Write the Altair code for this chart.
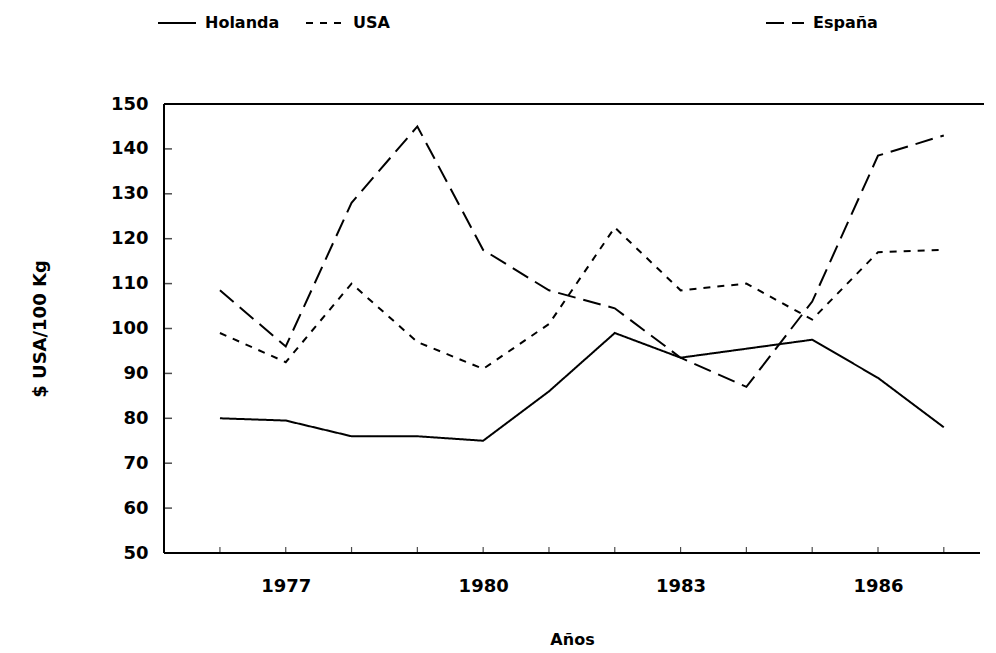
import altair as alt
import pandas as pd

years = list(range(1976, 1988))
holanda = [80, 79.5, 76, 76, 75, 86, 99, 93.5, 95.5, 97.5, 89, 78]
usa = [99, 92.5, 110, 97, 91, 101, 122.5, 108.5, 110, 102, 117, 117.5]
espana = [108.5, 96, 128, 145, 117.5, 108.5, 104.5, 93.5, 87, 106, 138.5, 143]
series_names = ["Holanda", "USA", "España"]
x_tick_labels = [1977, 1980, 1983, 1986]
y_ticks = list(range(50, 151, 10))

rows = []
for name, vals in zip(series_names, [holanda, usa, espana]):
    for yr, v in zip(years, vals):
        rows.append({"year": yr, "value": v, "country": name})
df = pd.DataFrame(rows)

W, H = 816, 449
FONT = "DejaVu Sans"

x_scale = alt.Scale(domain=[1975.15, 1987.55], nice=False, zero=False)
y_scale = alt.Scale(domain=[50, 150], nice=False, zero=False)

label_cond = " || ".join(f"datum.value == {v}" for v in x_tick_labels)

x_enc = alt.X(
    "year:Q", scale=x_scale,
    axis=alt.Axis(
        values=years, format="d", labelExpr=f"({label_cond}) ? datum.label : ''",
        ticks=False, tickSize=0, domain=False, grid=False, labelPadding=24,
        title="Años", titleY=86, titleBaseline="middle", titleFontSize=16,
        labelOverlap=False,
    ),
)
y_enc = alt.Y(
    "value:Q", scale=y_scale,
    axis=alt.Axis(
        values=y_ticks, ticks=False, tickSize=0, domain=False, grid=False,
        labelPadding=16, title="$ USA/100 Kg", titleX=-124, titleBaseline="middle",
    ),
)

base = alt.Chart(df)

lines_a = base.transform_filter(
    alt.FieldOneOfPredicate(field="country", oneOf=["Holanda", "USA"])
).mark_line(color="black", strokeWidth=2).encode(
    x=x_enc, y=y_enc,
    strokeDash=alt.StrokeDash(
        "country:N",
        scale=alt.Scale(domain=["Holanda", "USA"], range=[[1, 0], [7, 7]]),
        legend=alt.Legend(
            orient="none", legendX=-7, legendY=-101, direction="horizontal",
            title=None, columnPadding=22,
        ),
    ),
)

lines_b = base.transform_filter(
    alt.FieldEqualPredicate(field="country", equal="España")
).mark_line(color="black", strokeWidth=2).encode(
    x=x_enc, y=y_enc,
    strokeDash=alt.StrokeDash(
        "country:N",
        scale=alt.Scale(domain=["España"], range=[[18, 8]]),
        legend=alt.Legend(
            orient="none", legendX=601, legendY=-101, direction="horizontal",
            title=None,
        ),
    ),
)

# inward tick marks
ytick_df = pd.DataFrame({"value": y_ticks[1:-1]})
xtick_df = pd.DataFrame({"year": years})

yticks = alt.Chart(ytick_df).mark_tick(
    orient="horizontal", color="black", size=8, thickness=1.5
).encode(y=y_enc, x=alt.value(4))

xticks = alt.Chart(xtick_df).mark_tick(
    orient="vertical", color="black", size=6, thickness=1.2
).encode(x=x_enc, y=alt.value(H - 3))

frame_top = alt.Chart(df).mark_rule(color="black", strokeWidth=2).encode(
    x=alt.value(0), x2=alt.value(W + 4), y=alt.value(0))
frame_left = alt.Chart(df).mark_rule(color="black", strokeWidth=2).encode(
    x=alt.value(0), y=alt.value(0), y2=alt.value(H))
frame_bottom = alt.Chart(df).mark_rule(color="black", strokeWidth=2).encode(
    x=alt.value(0), x2=alt.value(W), y=alt.value(H))

chart = alt.layer(
    lines_a, lines_b, frame_top, frame_left, frame_bottom, yticks, xticks
).resolve_scale(strokeDash="independent").resolve_legend(
    strokeDash="independent"
).properties(
    width=W, height=H,
    autosize=alt.AutoSizeParams(type="none"),
    padding={"left": 156, "top": 96, "right": 8, "bottom": 98},
).configure_view(stroke=None).configure_axis(
    labelFont=FONT, labelFontWeight="bold", labelFontSize=18, labelColor="black",
    titleFont=FONT, titleFontWeight="bold", titleFontSize=18, titleColor="black",
).configure_legend(
    labelFont=FONT, labelFontWeight="bold", labelFontSize=16, labelColor="black",
    symbolType="stroke", symbolSize=1444, symbolStrokeWidth=2,
    symbolStrokeColor="black", labelOffset=8, padding=0,
)

chart.save("out.html", embed_options={"renderer": "svg", "actions": False})
